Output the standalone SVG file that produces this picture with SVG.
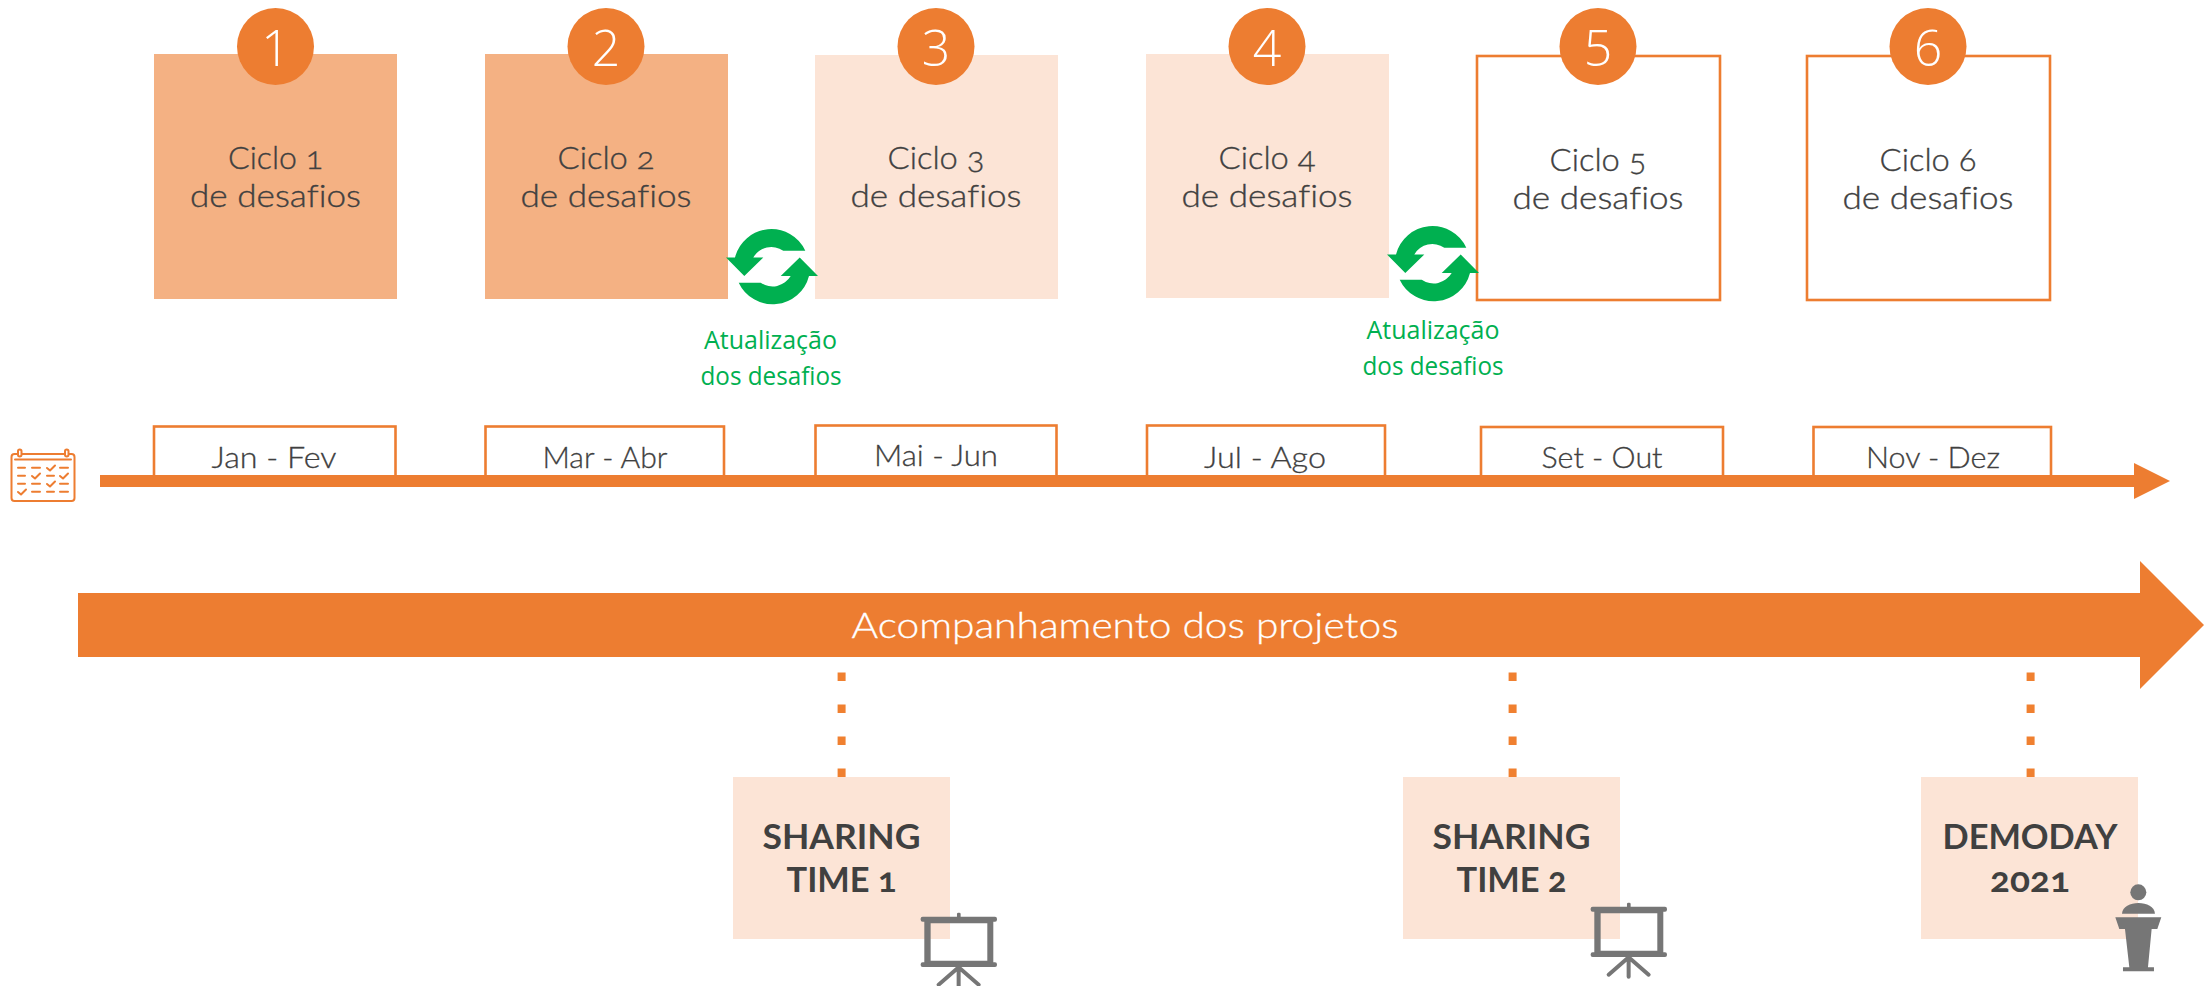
<svg xmlns="http://www.w3.org/2000/svg" width="2204" height="986" viewBox="0 0 2204 986">
<style>
text{text-anchor:middle;font-family:"Lato","Open Sans","Liberation Sans",sans-serif;fill:#404040;font-variant-numeric:oldstyle-nums;font-variant-ligatures:none}
.c{font-size:31.500px;font-weight:300;stroke:#404040;stroke-width:.35}
.d{font-size:28.500px;font-weight:300;stroke:#404040;stroke-width:.3}
.n{font-family:"Open Sans","Liberation Sans",sans-serif;font-size:50px;font-weight:300;fill:#fff;font-variant-numeric:normal}
.b{font-size:35px;font-weight:700}
.g{font-family:"Open Sans","Liberation Sans",sans-serif;font-size:25px;fill:#00b050}
.o{fill:#ed7d31}.f1{fill:#f4b183}.f2{fill:#fce4d6}
.w{fill:#fff;stroke:#ed7d31;stroke-width:2.600}
.i{fill:#767676}
.s{fill:#00b050}
.cal{fill:none;stroke:#ed7d31;stroke-width:2;stroke-linecap:round;stroke-linejoin:round}
</style>
<defs>
<g id="sync"><path id="sy" d="M33.300-16A37.500 37.500 0 0 0-37-9.300L-46-9.300-27.700 9.300-8.700-9.300-18.700-9.300A21 21 0 0 1 11.300-16Z"/><use href="#sy" transform="rotate(180)"/></g>
<g id="board" transform="scale(.3333)"><rect x="711" y="428" width="11" height="16" rx="4"/><rect x="602" y="440" width="229" height="15" rx="6"/><path fill-rule="evenodd" d="M613 450H820V582H613ZM632 460V572H802V460Z"/><rect x="602" y="577" width="229" height="14" rx="6"/><path d="M716 590V650M716 592L656 644M716 592L776 644" stroke="#767676" stroke-width="12" stroke-linecap="round" fill="none"/></g>
</defs>
<g id="connectors">
<path class="o" d="M78 593H2140V561L2204 625 2140 689V657H78Z" id="arrow-acompanhamento"/>
<path d="M841.600 672.500V777M1512.600 672.500V777M2030.600 672.500V777" stroke="#f08030" stroke-width="8" stroke-dasharray="8.500 23.500" fill="none"/>
</g>
<g id="tab1"><rect class="w" x="154" y="426.500" width="241.500" height="52"/><text class="d" x="274" y="468" textLength="125" lengthAdjust="spacingAndGlyphs">Jan - Fev</text></g>
<g id="tab2"><rect class="w" x="485.500" y="426.500" width="238.500" height="52"/><text class="d" x="605" y="468" textLength="125" lengthAdjust="spacingAndGlyphs">Mar - Abr</text></g>
<g id="tab3"><rect class="w" x="815.500" y="425.500" width="241" height="52"/><text class="d" x="936" y="466" textLength="124" lengthAdjust="spacingAndGlyphs">Mai - Jun</text></g>
<g id="tab4"><rect class="w" x="1147" y="425.500" width="238" height="52"/><text class="d" x="1265" y="468" textLength="122" lengthAdjust="spacingAndGlyphs">Jul - Ago</text></g>
<g id="tab5"><rect class="w" x="1481" y="427" width="242" height="52"/><text class="d" x="1602" y="468" textLength="121" lengthAdjust="spacingAndGlyphs">Set - Out</text></g>
<g id="tab6"><rect class="w" x="1813.500" y="427" width="237.500" height="52"/><text class="d" x="1933" y="468" textLength="134" lengthAdjust="spacingAndGlyphs">Nov - Dez</text></g>
<path id="timeline" class="o" d="M100 475H2134V463L2170 481 2134 499V487H100Z"/>
<g id="calendar" class="cal"><rect x="11.500" y="454" width="63" height="47" rx="3"/><path d="M15 459.500H71"/><rect x="18" y="449.500" width="3.500" height="7" rx="1.700" fill="#fff"/><rect x="65" y="449.500" width="3.500" height="7" rx="1.700" fill="#fff"/>
<path d="M18 467.700h7M32 467.700h8M47 468l3 2.500 5-5M60 467.700h8M18 475.700h7M32 476l3 2.500 5-5M47 475.700h7M60 476l3 2.500 5-5M18 483.700h7M32 483.700h8M47 484l3 2.500 5-5M60 483.700h8M18 492l3 2.500 5-5M32 491.700h8M47 491.700h7M60 491.700h8"/></g>

<g id="node1"><rect class="f1" x="154" y="54" width="243" height="245"/><circle class="o" cx="275.500" cy="46.500" r="38.500"/><text class="n" x="275.500" y="66">1</text><text class="c" x="275.500" y="168.500" textLength="95" lengthAdjust="spacingAndGlyphs">Ciclo 1</text><text class="c" x="275.500" y="207" textLength="171" lengthAdjust="spacingAndGlyphs">de desafios</text></g>
<g id="node2"><rect class="f1" x="485" y="54" width="243" height="245"/><circle class="o" cx="606" cy="46.500" r="38.500"/><text class="n" x="606" y="66">2</text><text class="c" x="606" y="168.500" textLength="97" lengthAdjust="spacingAndGlyphs">Ciclo 2</text><text class="c" x="606" y="207" textLength="171" lengthAdjust="spacingAndGlyphs">de desafios</text></g>
<g id="node3"><rect class="f2" x="815" y="55" width="243" height="244"/><circle class="o" cx="936" cy="46.500" r="38.500"/><text class="n" x="936" y="66">3</text><text class="c" x="936" y="168.500" textLength="97" lengthAdjust="spacingAndGlyphs">Ciclo 3</text><text class="c" x="936" y="207" textLength="171" lengthAdjust="spacingAndGlyphs">de desafios</text></g>
<g id="node4"><rect class="f2" x="1146" y="54" width="243" height="244"/><circle class="o" cx="1267" cy="46.500" r="38.500"/><text class="n" x="1267" y="66">4</text><text class="c" x="1267" y="168.500" textLength="97" lengthAdjust="spacingAndGlyphs">Ciclo 4</text><text class="c" x="1267" y="207" textLength="171" lengthAdjust="spacingAndGlyphs">de desafios</text></g>
<g id="node5"><rect class="w" x="1477" y="56" width="243" height="244"/><circle class="o" cx="1598" cy="46.500" r="38.500"/><text class="n" x="1598" y="66">5</text><text class="c" x="1598" y="170.500" textLength="97" lengthAdjust="spacingAndGlyphs">Ciclo 5</text><text class="c" x="1598" y="209" textLength="171" lengthAdjust="spacingAndGlyphs">de desafios</text></g>
<g id="node6"><rect class="w" x="1807" y="56" width="243" height="244"/><circle class="o" cx="1928" cy="46.500" r="38.500"/><text class="n" x="1928" y="66">6</text><text class="c" x="1928" y="170.500" textLength="97" lengthAdjust="spacingAndGlyphs">Ciclo 6</text><text class="c" x="1928" y="209" textLength="171" lengthAdjust="spacingAndGlyphs">de desafios</text></g>

<g id="update1"><use href="#sync" class="s" x="772" y="266.700"/><text class="g" x="770.500" y="349" textLength="133" lengthAdjust="spacingAndGlyphs">Atualização</text><text class="g" x="771" y="385" textLength="141" lengthAdjust="spacingAndGlyphs">dos desafios</text></g>
<g id="update2"><use href="#sync" class="s" x="1433" y="263.700"/><text class="g" x="1433" y="339" textLength="133" lengthAdjust="spacingAndGlyphs">Atualização</text><text class="g" x="1433" y="375" textLength="141" lengthAdjust="spacingAndGlyphs">dos desafios</text></g>

<text x="1125" y="638" style="font-size:35px;font-weight:300;fill:#fff;stroke:#fff;stroke-width:.3" textLength="547" lengthAdjust="spacingAndGlyphs" id="label-acompanhamento">Acompanhamento dos projetos</text>

<g id="sharing1"><rect class="f2" x="733" y="777" width="217" height="162"/><text class="b" x="841.500" y="849" textLength="158" lengthAdjust="spacingAndGlyphs">SHARING</text><text class="b" x="841.500" y="891.500" textLength="110" lengthAdjust="spacingAndGlyphs">TIME 1</text><use href="#board" class="i" x="720" y="770"/></g>
<g id="sharing2"><rect class="f2" x="1403" y="777" width="217" height="162"/><text class="b" x="1511.500" y="849" textLength="158" lengthAdjust="spacingAndGlyphs">SHARING</text><text class="b" x="1511.500" y="891.500" textLength="110" lengthAdjust="spacingAndGlyphs">TIME 2</text><use href="#board" class="i" x="1390" y="760"/></g>
<g id="demoday"><rect class="f2" x="1921" y="777" width="217" height="162"/><text class="b" x="2030" y="849" textLength="175" lengthAdjust="spacingAndGlyphs">DEMODAY</text><text class="b" x="2030" y="891.500" textLength="80" lengthAdjust="spacingAndGlyphs">2021</text>
<g class="i" transform="translate(1900 770) scale(.3333)"><circle cx="715" cy="367" r="24"/><path d="M666 431C668 388 763 388 765 431Z"/><path d="M646 442H784L772 477H755L744 592H762V604H669V592H688L675 477H658Z"/></g></g>
</svg>
